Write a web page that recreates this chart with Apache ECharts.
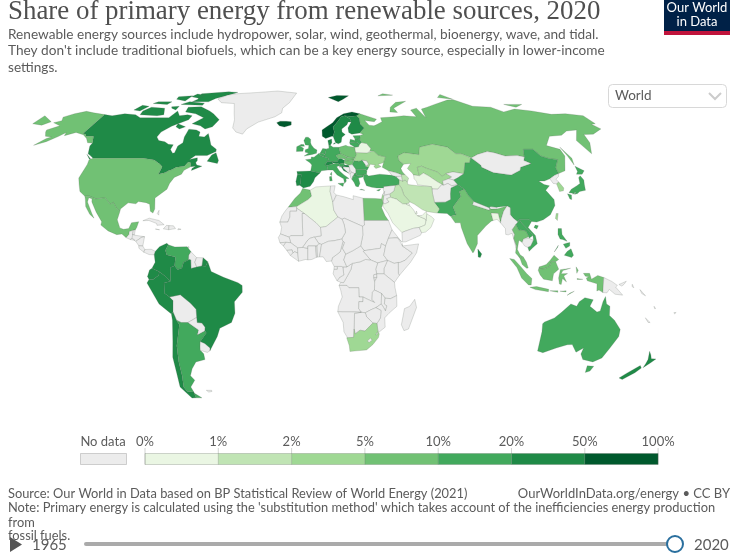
<!DOCTYPE html>
<html>
<head>
<meta charset="utf-8">
<script src="https://cdn.jsdelivr.net/npm/echarts@6/dist/echarts.min.js"></script>
<style>html,body{margin:0;background:#fff}#chart{width:740px;height:553px}</style>
</head>
<body>
<div id="chart"></div>
<script>
// share of primary energy, %, estimated from the colour of each country
const countries = ['Canada','United States','Mexico','Brazil','Colombia','Ecuador','Peru','Chile','Venezuela','Argentina','French Guiana',
  'Iceland','Norway','Sweden','Finland','Denmark','United Kingdom','Ireland','France','Spain','Portugal','Belgium','Netherlands','Germany',
  'Switzerland','Austria','Italy','Poland','Czechia','Slovakia','Hungary','Slovenia','Croatia','North Macedonia','Greece','Bulgaria','Romania',
  'Belarus','Ukraine','Lithuania','Latvia','Estonia','Russia','Kazakhstan','Uzbekistan','Turkmenistan','Azerbaijan','Iran','Iraq','Saudi Arabia',
  'United Arab Emirates','Oman','Kuwait','Qatar','Israel','Turkey','Cyprus','Egypt','Algeria','Morocco','South Africa','Pakistan','India',
  'Bangladesh','Sri Lanka','China','Japan','South Korea','Taiwan','Philippines','Vietnam','Laos','Thailand','Malaysia','Indonesia','Australia','New Zealand']
const shares = [29,8,7,46,30,35,28,27,17,13,22,
  80,71,49,28,35,18,13,13,22,30,11,11,18,
  35,36,19,7,8,9,6,15,30,15,15,11,17,
  0.7,4.5,11,20,15,6.5,2.4,3.5,0.5,1.5,1.5,1.3,0.1,
  0.6,0.3,0.1,0.1,3,17,14,6,0.2,8,4,15,9,
  0.6,25,15,10.5,2.5,3,12,18,15,8,8,8,11,37]

const legendTicks = [0,1,2,5,10,20,50,100]
const legendColors = ['#eaf6e3','#c0e4b4','#9fd894','#71c174','#42a95d','#1f8a47','#00592d']
const noDataColor = '#ececec'

// rough country outlines as flat lon,lat lists
const outlines = {
  'Canada':[[-141,69.6,-135,69,-128,70,-120,69.5,-115,68,-108,68,-100,68,-96,68,-94,71.5,-90,69,-85,69.5,-81.5,69,-82,67,-87,65,-90,63.8,-94,61,-94.5,58.7,-92,57,-88,56.5,-85,55.3,-82,55.1,-82.2,52.9,-80,51.3,-79,51.5,-79,54.5,-77,56,-78,58.7,-78,62.4,-73,62,-70,61,-69.5,59,-66,58.7,-64.5,60.3,-62,57.5,-60,55,-56,53,-55.7,52,-60,50.2,-66.5,50.2,-69,48.5,-65,49.2,-64.5,48,-65,47,-64,46,-61,45.5,-66,43.6,-66,44.5,-64.5,45.5,-67,45.2,-67.8,47,-69.2,47.4,-70.5,45.5,-74.7,45,-76.5,44,-79,43.3,-79,42.8,-83,42,-82.5,45.3,-84.5,46.5,-88.5,48.2,-95,49,-123,49,-125,50,-127.5,51,-130,54.5,-130,55.9,-133,59,-137.5,59,-139,60,-141,60.3],
    [-80,73.7,-72,71.5,-68,70,-62,67,-64,63.5,-68,62.5,-72,64,-78,65,-73,68,-80,70,-88,71,-89,73.5],[-117,69.5,-105,69,-101,69.5,-105,73,-115,73.5,-118,71.5],[-125,72,-120,71.5,-117.5,74,-123,74.5],[-90,76.5,-78,76.5,-75,78.5,-62,82.5,-70,83,-90,81.5,-88,78],[-96,75,-80,74.5,-80,75.7,-92,76.6],[-87,65,-81,63.5,-84,62.5,-87,63.5],[-59,47.7,-53,46.7,-52.8,48,-55.5,51.5,-57.5,50.5],[-128,50.8,-123.5,48.4,-125,48.8],[-117,75.5,-106,75,-105,76.5,-115,76.5],[-100,73,-96,72,-96,74,-101,73.7],[-104,78,-96,77,-95,80,-105,79.5],[-95,79.5,-87,78.5,-86,80.5,-93,81.3]],
  'United States':[[-123,49,-95,49,-88.5,48.2,-84.5,46.5,-82.5,45.3,-83,42,-79,42.8,-79,43.3,-76.5,44,-74.7,45,-70.5,45.5,-69.2,47.4,-67.8,47,-67,45.2,-70,43.7,-70.7,42,-74,40.6,-75.5,38,-76,35.5,-81,31.7,-80,27,-80.5,25.2,-82,26,-83,29,-85,29.7,-89,30.2,-90,29.2,-94,29.6,-97.2,27,-97.2,25.9,-99.5,27.5,-101.5,29.8,-103,29,-106.5,31.8,-111,31.3,-114.8,32.5,-117.1,32.5,-120.5,34.5,-122.5,37.5,-124.3,40.3,-124,46.3,-124.7,48.4],
    [-141,69.6,-141,60.3,-139,60,-137.5,59,-133,59,-130,55.9,-133,56,-136,58,-140,59.7,-146,60.8,-151,59.3,-152,60.8,-154,59,-158,56.5,-163,54.8,-160,58,-158,58.7,-162,59,-165,61,-166,62,-161,64,-167.5,65.5,-164,66.5,-166.5,68.3,-162,70,-156.5,71.3,-150,70.5]],
  'Mexico':[[-117.1,32.5,-114.8,32.5,-111,31.3,-106.5,31.8,-103,29,-101.5,29.8,-99.5,27.5,-97.2,25.9,-97.8,22.3,-95.9,18.8,-94,18.2,-91.5,18.5,-90.5,21,-87,21.5,-87.6,19,-88.2,17.9,-89.1,17.8,-91,17.2,-91,16,-92.2,14.6,-94.5,16.2,-97,15.9,-101.5,17.5,-105.5,20,-105.4,21.5,-109,25.6,-112.5,30,-113,31.4,-114.8,31.8,-114.7,30,-111,25,-109.5,23,-112,24.7,-115,28,-116.2,31]],
  'Greenland':[[-73,78.2,-68,76,-58,75.5,-54,70,-52,67,-51,63,-48,61,-43.5,60,-42,62.5,-36,65.8,-26,68.5,-22,70.5,-22,73,-18,76,-14,82,-30,83.5,-45,82.5,-62,81.5,-68,80.5]],
  'Iceland':[[-24,65.5,-22,64,-18.7,63.4,-14.5,64.4,-14.7,66,-18,66.2,-22,66.3]],
  'Cuba':[[-85,21.9,-82,23,-77,22,-74.2,20.2,-77.7,19.9,-78,20.7,-82,22]],
  'Haiti':[[-74.4,18.4,-71.7,18,-71.7,19.8,-73,19.9]],
  'Dominican Republic':[[-71.7,18,-68.4,18.5,-69.5,19.7,-71.7,19.8]],
  'Jamaica':[[-78.3,18.3,-76.2,18,-76.5,18.4]],
  'Puerto Rico':[[-67.2,18,-65.6,18.2,-67,18.5]],
  'Trinidad':[[-61.9,10.1,-61,10.2,-61.3,10.8]],
  'Bahamas':[[-78.3,25,-77.5,24.3,-77.7,26.4]],
  'Guatemala':[[-92.2,14.6,-91,16,-91,17.2,-89.1,17.8,-89.2,15.9,-88.3,15.7,-89.3,14.4,-90.1,13.8]],
  'Belize':[[-89.1,17.8,-88.2,17.9,-88.3,15.9,-89.2,15.9]],
  'Honduras':[[-89.2,15.9,-88.3,15.7,-83.2,15,-84.7,14.7,-87.3,13,-87.8,13.4,-89.3,14.4]],
  'El Salvador':[[-90.1,13.8,-89.3,14.4,-87.8,13.4,-88,13.2]],
  'Nicaragua':[[-87.3,13,-84.7,14.7,-83.2,15,-83.7,11,-85.7,11.1]],
  'Costa Rica':[[-85.7,11.1,-83.7,11,-82.6,9.5,-83,8.3,-85.5,10]],
  'Panama':[[-83,8.3,-82.6,9.5,-79.5,9.6,-77.4,8.7,-77.9,7.2,-80.4,7.3]],
  'Colombia':[[-77.4,8.7,-75.5,10.7,-72,12.2,-71.3,11.5,-72.5,9.2,-71.9,7.2,-67.5,6.2,-67.8,2.5,-69.8,1.7,-69.9,-4.2,-72,-2.3,-75.2,-0.1,-78.8,1.4,-77.3,4,-77.9,7.2]],
  'Venezuela':[[-71.3,11.5,-68,10.6,-62,10.7,-60,8.5,-61,7,-61,5,-60.7,5.2,-63.5,3.9,-64.2,1.5,-66.3,0.8,-67.8,2.5,-67.5,6.2,-71.9,7.2,-72.5,9.2]],
  'Guyana':[[-60,8.5,-57.2,6,-58,4,-57,1.9,-59.8,1.3,-60,5,-61,5,-61,7]],
  'Suriname':[[-57.2,6,-54,5.9,-54.5,2.4,-57,1.9,-58,4]],
  'French Guiana':[[-54,5.9,-51.7,4.2,-52.7,2.3,-54.5,2.4]],
  'Ecuador':[[-80,0.6,-78.8,1.4,-75.2,-0.1,-75.5,-1.6,-78.3,-3.4,-80.3,-3.4,-81,-2.2]],
  'Peru':[[-80.3,-3.4,-78.3,-3.4,-75.5,-1.6,-75.2,-0.1,-72,-2.3,-69.9,-4.2,-73,-5,-73,-9.4,-70.6,-11,-69,-12.5,-69.5,-17.5,-70.4,-18.3,-76,-14,-81.3,-5]],
  'Bolivia':[[-69,-12.5,-70.6,-11,-65.3,-10,-60.5,-13.7,-58,-16.3,-58,-19.8,-62.6,-22,-66,-22,-68.2,-21,-69.5,-17.5]],
  'Chile':[[-70.4,-18.3,-69.5,-17.5,-68.2,-21,-67,-23,-70,-32,-71,-39,-71.5,-45,-73,-50,-72,-52,-68.5,-52.3,-68.6,-54.9,-71,-55,-75,-50,-74,-44,-73.5,-37,-71.5,-30,-70.2,-21]],
  'Argentina':[[-66,-22,-68.2,-21,-67,-23,-70,-32,-71,-39,-71.5,-45,-73,-50,-72,-52,-68.5,-52.3,-69,-50,-65.5,-47,-67,-45,-65,-42,-62,-39,-57,-38,-57,-35.5,-58.4,-34,-58.2,-32.5,-57.6,-30.2,-54,-26.5,-54.6,-25.6,-58.6,-27.3,-57.7,-25.2,-62.6,-22],[-68.6,-52.7,-65.2,-54.9,-68.6,-54.9]],
  'Paraguay':[[-62.6,-22,-58,-19.8,-58,-22,-55.7,-22.2,-54.3,-24,-54.6,-25.6,-58.6,-27.3,-57.7,-25.2]],
  'Uruguay':[[-58.2,-32.5,-57.6,-30.2,-55.5,-31,-53.2,-33,-53.5,-34.2,-55,-34.9,-58.4,-34]],
  'Brazil':[[-51.7,4.2,-50,0,-44,-2.5,-37,-4.8,-35,-6,-35,-9,-39,-13,-39,-18,-41,-22,-47,-24.5,-48.7,-28,-53.5,-34.2,-53.2,-33,-55.5,-31,-57.6,-30.2,-54,-26.5,-54.6,-25.6,-54.3,-24,-55.7,-22.2,-58,-22,-58,-19.8,-58,-16.3,-60.5,-13.7,-65.3,-10,-70.6,-11,-73,-9.4,-73,-5,-69.9,-4.2,-69.8,1.7,-67.8,2.5,-66.3,0.8,-64.2,1.5,-63.5,3.9,-60.7,5.2,-60,5,-59.8,1.3,-57,1.9,-54.5,2.4,-52.7,2.3]],
  'Falkland Islands':[[-61,-51.5,-58,-51.5,-58,-52,-60,-52.3]],
  'United Kingdom':[[-5.5,50,-1,50.7,1.4,51.2,1.7,52.7,0,53.5,-1.5,55,-2,56,-2,57.6,-3.5,58.6,-5,58.6,-6,57,-5,55,-3,54.9,-3.2,53.4,-5,52.8,-5,51.7,-3,51.4],[-8,54.4,-5.5,54.4,-6,55.2,-7.5,55.2]],
  'Ireland':[[-10,52,-6.3,52.2,-6,53.5,-8,54.4,-7.5,55.2,-10,54.2]],
  'France':[[-1.8,43.4,3.2,42.5,4,43.5,7.5,43.8,7,45.8,6,46.2,7.5,47.6,8.2,49,6.2,49.5,4.2,50,2.5,51,1.6,50.5,0,49.5,-1.5,49.6,-1.6,48.7,-4.7,48.4,-2.2,47,-1.2,46],[8.6,42,9.4,41.4,9.5,43]],
  'Spain':[[-9.2,43.2,-1.8,43.4,3.2,42.5,0.5,40.5,-0.3,38.7,-2,36.8,-5.5,36,-7.4,37.2,-7,38.5,-6.8,41.9,-8.8,42]],
  'Portugal':[[-8.8,42,-6.8,41.9,-7,38.5,-7.4,37.2,-9,37,-9.5,38.8]],
  'Belgium':[[2.5,51,4.2,50,6.2,49.5,6.2,50.6,4,51.4]],
  'Netherlands':[[3.5,51.4,6.2,50.8,7.1,53.2,5,53.4,4,52]],
  'Germany':[[6.2,50.6,6.2,49.5,8.2,49,7.5,47.6,10,47.4,13,47.6,13.8,48.7,12.2,50.2,15,51,14.3,53.9,11,54,9.5,54.8,8.6,54.9,8.6,53.5,7.1,53.2,6.2,50.8]],
  'Denmark':[[8.6,54.9,9.5,54.8,10.5,56,10.5,57.7,8.2,57],[11.2,55.3,12.6,55.6,12,56]],
  'Switzerland':[[6,46.2,7,45.8,10.4,46.5,10,47.4,7.5,47.6]],
  'Austria':[[10,47.4,10.4,46.9,12.2,46.9,14,46.5,16.5,46.9,17,48,15,48.9,13.8,48.7,13,47.6]],
  'Italy':[[7,45.8,7.5,43.8,10.2,43.8,12.3,41.7,15.6,40,16,38,17,39,16.8,40,18.5,40.1,16,41.7,13.6,43.5,12.3,45.3,13.7,45.7,14,46.5,12.2,46.9,10.4,46.5],[12.5,38,15.6,38.2,15.1,36.7],[8.3,39,9.6,39.1,9.3,41.1,8.2,40.9]],
  'Poland':[[14.3,53.9,15,51,19,49.5,22.8,49,24,50.8,23.6,52.5,23.5,54,19.6,54.4,18.5,54.8]],
  'Czechia':[[12.2,50.2,13.8,48.7,15,48.9,17,48.7,18.8,49.5,15,51]],
  'Slovakia':[[17,48,17,48.7,18.8,49.5,19,49.5,22.5,49,22.1,48.4,18.8,47.8]],
  'Hungary':[[16.5,46.9,17,48,18.8,47.8,22.1,48.4,21,46.2,18.8,45.9]],
  'Slovenia':[[13.7,45.5,14,46.5,16.5,46.9,16.6,46,15.3,45.4]],
  'Croatia':[[13.6,45.1,13.7,45.5,15.3,45.4,16.6,46,18.8,45.9,19.2,45,16,45.2,15.8,44.7,18.5,42.5,16,43.5,14.8,45.1]],
  'Bosnia':[[15.8,44.7,16,45.2,19.2,45,19.4,43.6,18.5,42.5]],
  'Serbia':[[19.2,45,18.8,45.9,21,46.2,22.6,44.5,22.4,42.5,21.6,42.3,20,42.9,19.4,43.6]],
  'Montenegro':[[18.5,42.5,19.4,43.6,20,42.9,19.3,41.9]],
  'North Macedonia':[[20.5,41,21.6,42.3,22.4,42.5,23,41.3]],
  'Albania':[[19.3,41.9,20,42.9,21.6,42.3,20.5,41,20,39.7,19.4,40.5]],
  'Greece':[[20,39.7,20.5,41,23,41.3,26.3,41.7,26,40.8,23.5,40.3,24,38,23,36.5,21.7,36.8,21,38.4],[23.6,35.3,26.2,35,24.5,35.5]],
  'Bulgaria':[[22.4,42.5,22.6,44.2,27.5,44,28.5,43.5,28,42,26.3,41.7,23,41.3]],
  'Romania':[[21,46.2,22.1,48,24.9,47.7,26.6,48.2,28.2,46,28.2,45.4,29.7,45,28.6,43.7,27.5,44,22.6,44.2]],
  'Moldova':[[26.6,48.2,29.1,47.9,30,46.4,28.2,45.4,28.2,46]],
  'Ukraine':[[22.1,48.4,22.8,49,24,50.8,23.6,51.6,30,51.4,34,52.3,36,50.4,40,49.6,38.3,47.1,35,46.3,36.5,45.3,33.5,44.5,32.5,45.4,33.5,46,30.8,46.4,29.7,45,28.2,45.4,30,46.4,29.1,47.9,26.6,48.2,24.9,47.7,22.1,48]],
  'Belarus':[[23.6,51.6,30,51.4,31.8,52.1,32.7,53.4,30.8,55.6,28,56.1,26.5,55.3,25.7,54.2,23.5,54,23.6,52.5]],
  'Lithuania':[[21,55.3,21,56.1,25,56.3,26.5,55.3,25.7,54.2,23.5,54,22.8,54.4]],
  'Latvia':[[21,56.1,21.6,57.6,24.3,57.1,24.4,57.9,27.3,57.6,28,56.1,26.5,55.3,25,56.3]],
  'Estonia':[[23.5,59.2,28,59.4,27.3,57.6,24.4,57.9,24.3,58.3]],
  'Norway':[[5,59,7,58,10.7,59,11.5,59,12.5,61,12,63.5,14,65,15.5,66.3,18,68.5,20.5,69,25,68.6,29,69,31,70,26,71,20,70,15,68,12,65.5,8,63.5,5,62],[11,79,18,76.6,22,78,27,80,18,80.3]],
  'Sweden':[[11.5,59,10.9,58.9,12.7,56,14.3,55.5,16,56.2,16.8,58.6,19,59.8,17.2,61,17.3,62.5,21,64.5,22,65.8,24,65.8,23.5,67.5,20.5,69,18,68.5,15.5,66.3,14,65,12,63.5,12.5,61]],
  'Finland':[[24,65.8,21.3,63,21.3,60.8,23,60,28,60.5,31.5,62.9,29.5,65,30,67.7,28.5,69,29,69,25,68.6,20.5,69,23.5,67.5]],
  'Russia':[[28,59.4,30,60,28,60.5,31.5,62.9,29.5,65,30,67.7,28.5,69,31,70,41,67.3,39,66,33,66.6,35,64.3,38,64,40,64.6,44,66,44,68,54,68.5,60,69,68,68.5,67,72,72,73,74,68,75,72.5,80,73.5,87,75,100,77.5,105,77.7,113,74,125,73.5,130,71,140,72.5,150,71.5,160,69.7,170,70,180,69,180,65,177,64.7,179,62.5,170,60,164,59.8,162,56,156.7,51,155.5,57,163,62,156,61.5,150,59.5,142,59,135,54.7,141,53,140.5,50,135,43.5,130.7,42.3,131,44.9,135,48.4,130.5,48.9,127,50,125.5,53,120,53,117.5,49.6,114,50.2,107,50,102,51.5,98.5,52,92,50.7,87.8,49.2,87.3,49.2,83,51,80,51,77,54,71,55,69,55.3,61,54,59,50.6,51,51.5,47,50,47,48,49,46.4,47,44.5,47.5,43,48.5,41.8,46.5,41.8,44,42.6,40,43.5,37,45,38.3,47.1,40,49.6,36,50.4,34,52.3,31.8,52.1,32.7,53.4,30.8,55.6,28,56.1,27.3,57.6],
    [-180,69,-170,66,-173,64.3,-180,65],[142,54,143.5,49,142,46,142,50],[52,71,57,70.7,56,73,68,76.8,60,76.2,54,73.5],[95,79,105,78,100,81],[137,75,150,75,143,73.5],[50,80,62,80.5,55,81.5]],
  'Kazakhstan':[[47,50,51,51.5,59,50.6,61,54,69,55.3,71,55,77,54,80,51,83,51,87.3,49.2,85.5,47,83,47,80,42.2,74.5,43,70.5,42.3,68,41,66,43,61,44.5,58.5,45.5,56,45,56,41.3,53,41.7,52.5,42.5,50.5,44.5,53,46.7,49,46.4,47,48]],
  'Uzbekistan':[[56,45,58.5,45.5,61,44.5,66,43,68,41,70.5,42.3,73,40.8,71,40,67.5,39,67.5,37.2,64.5,38.8,61,41.2,58.5,42.5,56,41.3]],
  'Turkmenistan':[[53,41.7,56,41.3,58.5,42.5,61,41.2,64.5,38.8,67.5,37.2,66.5,37.4,64,35.5,61,35.6,61,36.6,54,37.4,53.7,39,52.8,40]],
  'Kyrgyzstan':[[70.5,42.3,74.5,43,80,42.2,76,40.4,73.5,39.5,71,40,73,40.8]],
  'Tajikistan':[[67.5,37.2,67.5,39,71,40,73.5,39.5,75,37.4,71.5,37,70,38]],
  'Afghanistan':[[61,35.6,64,35.5,66.5,37.4,67.5,37.2,70,38,71.5,37,75,37.4,71,36,70,33.5,69.5,31,66.5,29.9,61,29.8,60.8,33.5]],
  'Pakistan':[[61.6,25.2,66.5,25,68,23.8,71,24.5,70,27.8,75,32.3,74.8,34.5,77.8,35.5,75,37.4,71,36,70,33.5,69.5,31,66.5,29.9,61,29.8,63,27]],
  'Iran':[[44.8,39.7,46.5,39,48,39.5,48.9,38.5,49,37.5,54,37,54,37.4,61,36.6,61,35.6,60.8,33.5,61,29.8,63,27,61.6,25.2,57,25.8,54.5,26.6,50.8,29,48.6,30,46,33,45.3,36,44.3,37.5]],
  'Iraq':[[38.8,33.4,41.2,34.8,42.3,37.2,44.3,37.5,45.3,36,46,33,48.6,30,47.8,29.5,46.5,29.1,44.7,29.2,42,31.2,39,32]],
  'Syria':[[35.8,35.5,36.2,36.7,42.3,37.2,41.2,34.8,38.8,33.4,36,33,35.9,34.6]],
  'Lebanon':[[35.1,33.1,36,33.5,36.4,34.6,35.9,34.6]],
  'Israel':[[34.3,31.3,35.1,33.1,35.7,32.7,35,29.5]],
  'Jordan':[[35,29.5,35.7,32.7,36,33,38.8,33.4,39,32,37,31.4,38,30,36,29.2]],
  'Turkey':[[26.2,40,26.3,41.7,28,42,29,41.2,35,42,41.5,41.5,43.5,41,44.8,39.7,44.3,37.5,42.3,37.2,36.2,36.7,36,36,32.5,36,30,36.3,27.3,37,26.5,39]],
  'Cyprus':[[32.3,35,34.5,35.6,33.5,34.7]],
  'Georgia':[[40,43.5,44,42.6,46.5,41.8,46.5,41.1,43.5,41,41.5,41.5]],
  'Armenia':[[43.5,41,46.5,41.1,46.5,39,44.8,39.7]],
  'Azerbaijan':[[46.5,41.8,48.5,41.8,50,40.3,48.9,38.5,48,39.5,46.5,39,46.5,41.1]],
  'Saudi Arabia':[[34.8,29.3,36,29.2,38,30,37,31.4,39,32,42,31.2,44.7,29.2,46.5,29.1,47.8,28.5,48.7,28,50,26.5,50.8,24.8,51.6,24.1,55.2,22.7,55.7,22,55,20,52,19,49,18.6,45,17.4,43.3,16.8,42.8,16.4,39,21,37,25,34.8,28]],
  'Yemen':[[43.3,12.7,45,12.8,52.3,15.6,53,16.7,52,19,49,18.6,45,17.4,43.3,16.8,42.8,16.4]],
  'Oman':[[52,19,55,20,55.7,22,56.3,24.9,58.6,23.6,59.8,22.5,57.8,19,55,17,53,16.7]],
  'United Arab Emirates':[[51.6,24.1,54,24.2,56.3,26,56.3,24.9,55.7,22,55.2,22.7]],
  'Qatar':[[50.8,24.8,51.6,25,51.3,26.1,50.8,25.7]],
  'Kuwait':[[46.5,29.1,47.8,29.5,48.4,28.5,47.8,28.5]],
  'India':[[68.2,23.7,71,24.5,70,27.8,75,32.3,74.8,34.5,77.8,35.5,79,32.8,81,30.2,80,28.8,88,26.4,88.2,27.5,89,26.9,92,27,97.3,28.3,95,26,93.3,23,92.5,21,92,25,88.5,25.2,89,22,88,21.7,85,19.6,80.3,15.5,80,12,78,8.5,77.5,8,75,12,72.8,19,72.6,21,70,21,69,22.5]],
  'Nepal':[[80,28.8,81,30.2,88.2,27.5,88,26.4]],
  'Bhutan':[[89,26.9,88.2,27.5,89,28,92,27.7,92,27]],
  'Bangladesh':[[88.5,25.2,92,25,92.5,21,91,22.5,89,22]],
  'Sri Lanka':[[80,9.7,81.8,7.5,81,6,80,6.2]],
  'China':[[73.5,39.5,76,40.4,80,42.2,83,47,85.5,47,87.3,49.2,87.8,49.2,91,46,91,45,96,42.7,105,41.7,111,43.7,112,45,119,46.7,116,48,117.5,49.6,120,53,125.5,53,127,50,130.5,48.9,135,48.4,131,44.9,130.7,42.3,128,41.5,124.4,40,121,39,118,39,120,37.5,122.5,37,119.5,35,122,31,121.5,28.5,118,24.5,114,22.3,110.5,21.3,108,21.6,106.7,22.5,102,22.5,101.2,21.3,99.2,23,98,24.5,98.7,27.5,97.3,28.3,92,27.7,89,28,88.2,27.5,81,30.2,79,32.8,77.8,35.5,75,37.4],[108.7,19,110,18.3,111,19.7,109.5,20]],
  'Taiwan':[[120.2,23,120.9,22,122,25,121,25]],
  'Mongolia':[[87.8,49.2,92,50.7,98.5,52,102,51.5,107,50,114,50.2,117.5,49.6,116,48,119,46.7,112,45,111,43.7,105,41.7,96,42.7,91,45,91,46]],
  'North Korea':[[124.4,40,128,41.5,130.7,42.3,129.7,41,127.5,39.8,128.3,38.6,126.7,37.8,125,38]],
  'South Korea':[[126.7,37.8,128.3,38.6,129.4,36,128.5,34.8,126.4,34.5]],
  'Japan':[[131,34,135,33.5,136.8,34.5,140,35,141,37.5,142,39.5,141.4,41.3,140,40.5,139,38,136.8,37,133,35.5],[140,42,143,42,145.3,43.5,142,45.5,141.5,43.2],[130,33.5,131.8,33,131,31,130.2,31.3],[132.5,33.5,134.5,34.2,134,33.3]],
  'Myanmar':[[92.5,21,93.3,23,95,26,97.3,28.3,98.7,27.5,98,24.5,99.2,23,101.2,21.3,100,20.3,97.8,18,98.7,16,98,14.3,99,11,98.7,10,98,14,97.5,16.5,95.5,15.8,94.3,16,94.5,18.5]],
  'Thailand':[[100,20.3,101,17.7,102,18,104.5,17.5,105.5,15,102.7,14,102,12.5,100.5,13.5,100,12,99.3,9.5,100.5,7.2,102,6.2,101,5.7,99.7,6.5,98.3,8,98.7,10,99,11,98,14.3,98.7,16,97.8,18]],
  'Laos':[[101.2,21.3,102,22.5,103,20.8,106.5,17,107.6,15.5,105.5,14.3,105.5,15,104.5,17.5,102,18,101,17.7,100,20.3]],
  'Cambodia':[[102.7,14,105.5,14.3,107.6,13.5,106,11,104.5,10.4,103,11,102,12.5]],
  'Vietnam':[[102,22.5,106.7,22.5,108,21.6,105.8,19,108.8,15.5,109.3,12,107,10.4,105,8.7,104.5,10.4,106,11,107.6,13.5,107.6,15.5,106.5,17,103,20.8]],
  'Malaysia':[[102,6.2,103.4,4,104.2,1.5,103.4,1.4,101.3,3,100.4,5.5,99.7,6.5,101,5.7],[109.6,2,111.3,2.5,113,3,115,4.9,117,7,119.2,5.2,117.6,4.2,115.6,4.3,114.5,2,112,1.2,109.7,1]],
  'Indonesia':[[95.3,5.6,97.5,5.2,100.5,2.2,103.5,-1,106,-3,105.8,-5.8,104.5,-5.8,101,-2.8,98.7,1.7],[105.2,-6.8,108.5,-6.5,114.5,-7.7,114.4,-8.7,108,-7.8],[109.6,2,109.7,1,112,1.2,114.5,2,115.6,4.3,117.6,4.2,119,1,116.5,-1,116,-4,111.7,-3.3,110,-1.5,109,0.5],[119.8,0.8,124.8,1.4,121,0.4,120.2,-1,123.3,-0.9,121.5,-1.9,122.9,-4.5,120.9,-3,120.4,-5.6,119.5,-5.4,119,-2.8],[115,-8.3,119,-8.3,119,-9],[120,-8.5,123,-8.3,123,-8.8],[123.6,-10.3,127,-8.5,125,-9.3],[127.5,2,128.5,0.5,127.8,-0.8],[128,-3,130.8,-3.4,128,-3.4],[131,-0.8,134,-0.8,135,-3.3,138,-1.7,141,-2.6,141,-9.1,139,-8,138,-8.4,137.8,-5.3,133,-4,132.5,-2.8,133.8,-2.3,132,-2]],
  'Papua New Guinea':[[141,-2.6,145,-4.3,147.8,-6,147,-6.7,150.8,-10.2,147,-9.8,144,-7.7,143,-9.2,141,-9.1],[148.5,-5.6,152,-4.2,151,-5.5,150,-6.3],[155,-5.5,155.9,-7,155,-6.5]],
  'Solomon Islands':[[159,-7.8,162,-10.5,160,-9.5]],
  'Vanuatu':[[167,-15,168,-16,167.5,-16]],
  'New Caledonia':[[164,-20,167,-22,166,-22]],
  'Fiji':[[177.5,-17.7,178.6,-17.7,178,-18.3]],
  'Philippines':[[120.5,18.5,122.2,18.5,122,16,124,13,122,13.8,120.7,14,120,16],[122,7,123.5,8.6,125.5,9.8,126.5,7,125.5,6,124,6.5],[122,11.8,123,10,125,11,125.3,12.5,124,12.3],[117.2,8.4,119.5,11.3,119,10.4]],
  'Australia':[[113.7,-22.5,114.2,-26,115,-34.3,118,-35,124,-33,129,-31.6,131.5,-31.5,135,-34.8,138,-33,138,-35.6,140.5,-38,146.4,-39,150,-37.3,151.5,-33,153.5,-28,153,-25,149,-21,146,-19,145.3,-15,143.5,-14,142.5,-10.8,141.6,-13,141,-17,139.5,-17.5,135.5,-15,136.7,-12.2,132.5,-11.3,130,-13,129,-15,126,-14,122.2,-17.5,119,-20,114.5,-21.8],[144.7,-40.7,148.3,-40.9,148,-43,146,-43.6]],
  'New Zealand':[[172.7,-34.4,174.5,-36,176,-37.6,178.5,-37.7,177,-39.5,175,-41.5,174.8,-39.8,174.6,-38],[172.7,-40.6,174.3,-41.7,172.8,-43.7,171,-45,169,-46.7,166.5,-46,168.5,-44]],
  'Morocco':[[-5.9,35.8,-2,35.1,-1.2,32.5,-3,31,-8.7,28,-13,27.7,-9.8,31.5,-7,33.8]],
  'Western Sahara':[[-13,27.7,-8.7,28,-8.7,26,-12,26,-12,23.5,-13,21.3,-17,21.3,-16,24,-14.5,26]],
  'Algeria':[[-2,35.1,1,36.5,8.6,36.9,8.3,34.5,9.5,30,9.9,26.5,11.9,23.5,6,19.4,3.2,19,1,21,-4.8,25,-8.7,27.3,-8.7,28,-3,31,-1.2,32.5]],
  'Tunisia':[[8.6,36.9,11,37,10.2,34,11.5,33,10,30.5,9.5,30,8.3,34.5]],
  'Libya':[[11.5,33,15,32.3,20,31,20,32.7,25,31.6,25,20,24,19.5,15,23,14,22.5,11.9,23.5,9.9,26.5,9.5,30,10,30.5]],
  'Egypt':[[25,31.6,31,31.5,34.3,31.3,35,29.5,34,27.5,35.5,24,37,22,25,22]],
  'Sudan':[[25,22,37,22,38.5,18,36.5,14.3,35,11,33,12,32.4,10,24.5,9,22.8,11,24,15.7,24,19.5,25,20]],
  'South Sudan':[[24.5,9,32.4,10,33,12,35,11,34,7,35.8,4.8,31,3.7,27.5,5,24,8.7]],
  'Eritrea':[[38.5,18,43,12.7,41,14.5,39.5,14.5,36.5,14.3]],
  'Djibouti':[[42,11,43.3,12,43.2,11,42.7,11]],
  'Ethiopia':[[36.5,14.3,39.5,14.5,41,14.5,42.5,12.5,43.2,11,48,8,44.5,4.9,41.9,3.9,39,3.5,35.8,4.8,34,7,35,11]],
  'Somalia':[[43.2,11,51.2,11.9,50,8,47,4,41.5,-1.7,41,-0.8,41,3.9,41.9,3.9,44.5,4.9,48,8]],
  'Kenya':[[35.8,4.8,39,3.5,41,3.9,41,-0.8,41.5,-1.7,39.2,-4.7,34,-1,34,1.2]],
  'Uganda':[[31,3.7,35.8,4.8,34,1.2,34,-1,30.5,-1,30,1]],
  'Rwanda':[[29,-1.4,30.5,-1,30.6,-2.5,29,-2.8]],
  'Burundi':[[29,-2.8,30.6,-2.5,29.5,-4.4]],
  'Tanzania':[[30.5,-1,34,-1,39.2,-4.7,39.5,-7,40.4,-10.4,37.5,-11.7,34.8,-11.5,33,-9.5,31,-8.6,29.5,-8,29.5,-4.4,30.6,-2.5]],
  'DR Congo':[[12.2,-6,13,-4.7,14.4,-4.8,16.2,-2,18,1,18.6,3.5,22.5,4.2,25,5.2,27.5,5,31,3.7,30,1,30.5,-1,29,-1.4,29,-2.8,29.5,-4.4,29.5,-8,28.5,-9,28.4,-12,29.8,-13.4,26,-11.9,24,-11,22,-11,21.8,-7,17,-7,16,-6]],
  'Congo':[[11.2,-4,13,-4.7,14.4,-4.8,16.2,-2,18,1,18.6,3.5,16,2,14,2,14.5,-1.5,12.5,-2.5]],
  'Gabon':[[9.3,-1,9.7,1,11.3,1,11.3,2.2,13.3,2.2,14,2,14.5,-1.5,12.5,-2.5,11.2,-4]],
  'Equatorial Guinea':[[9.7,1,9.8,2.2,11.3,2.2,11.3,1]],
  'Cameroon':[[8.5,4.5,9.8,2.2,11.3,2.2,13.3,2.2,14,2,16,2,14.5,5,15.5,7.5,13.9,10,15,12.5,14.2,13,12.8,8.5,10.6,7,9,6]],
  'Central African Republic':[[14.5,5,16,2,18.6,3.5,22.5,4.2,25,5.2,27.5,5,24,8.7,24.5,9,22.8,11,19,9,15.5,7.5]],
  'Chad':[[14,22.5,15,23,24,19.5,24,15.7,22.8,11,19,9,15.5,7.5,13.9,10,15,12.5,14.2,13,13.6,14,15.5,16.9,15,20]],
  'Niger':[[3.2,19,6,19.4,11.9,23.5,14,22.5,15,20,15.5,16.9,13.6,14,10,13.3,7,13,3.7,11.7,2.4,12,0.2,14.9,3.5,15.4]],
  'Mali':[[-4.8,25,1,21,3.2,19,3.5,15.4,0.2,14.9,-2,14.3,-3,13.6,-5.5,10.4,-8,10.2,-11.4,12.4,-12.2,14.8,-11.5,15.5,-5.5,15.5,-6,25]],
  'Mauritania':[[-17,21.3,-13,21.3,-12,23.5,-12,26,-8.7,26,-8.7,27.3,-4.8,25,-6,25,-5.5,15.5,-11.5,15.5,-12.2,14.8,-16.5,16.2,-16,19]],
  'Senegal':[[-17.5,14.7,-16.5,16.2,-12.2,14.8,-11.4,12.4,-13.7,12.6,-16.7,12.4]],
  'Guinea-Bissau':[[-16.7,12.4,-13.7,12.6,-15,11]],
  'Guinea':[[-13.7,12.6,-11.4,12.4,-8,10.2,-7.9,8,-9.5,8.5,-10.3,8,-10.7,9.3,-13.3,9.1,-15,11]],
  'Sierra Leone':[[-13.3,9.1,-10.7,9.3,-10.3,8,-11.5,6.9]],
  'Liberia':[[-11.5,6.9,-10.3,8,-9.5,8.5,-7.9,8,-7.5,4.4]],
  'Ivory Coast':[[-7.5,4.4,-7.9,8,-8,10.2,-5.5,10.4,-3,10,-3,5,-4,5.2]],
  'Burkina Faso':[[-5.5,10.4,-3,13.6,-2,14.3,0.2,14.9,2.4,12,1.5,11,0.8,11,-3,11,-3,10]],
  'Ghana':[[-3,5,-3,11,0.8,11,1.2,6.1,-1,5.2]],
  'Togo':[[1.2,6.1,0.8,11,1.5,11,1.7,6.2]],
  'Benin':[[1.7,6.2,1.5,11,2.4,12,3.7,11.7,2.7,6.3]],
  'Nigeria':[[2.7,6.3,3.7,11.7,7,13,10,13.3,13.6,14,14.2,13,12.8,8.5,10.6,7,9,6,8.5,4.5,6,4.3,4.5,6.3]],
  'Angola':[[12.2,-6,13,-8,13.8,-11,12,-15,11.7,-17.3,14,-17.4,18.5,-17.4,23.4,-17.6,22,-16,22,-13,24,-13,24,-11,22,-11,21.8,-7,17,-7,16,-6]],
  'Zambia':[[22,-16,23.4,-17.6,25.3,-17.8,28,-16.5,30.4,-15.6,33,-14,33,-9.5,31,-8.6,29.5,-8,28.5,-9,28.4,-12,29.8,-13.4,26,-11.9,24,-11,24,-13,22,-13]],
  'Malawi':[[33,-9.5,34.8,-11.5,34.5,-14,35.8,-14.8,35.2,-17,34.2,-15.5,33,-14]],
  'Mozambique':[[34.8,-11.5,37.5,-11.7,40.4,-10.4,40.7,-15,37,-18,35,-20,35.5,-24,32.8,-26,32,-25.7,31.3,-22.4,32.9,-20,33,-16.8,30.4,-15.6,33,-14,34.2,-15.5,35.2,-17,35.8,-14.8,34.5,-14]],
  'Zimbabwe':[[25.3,-17.8,28,-16.5,30.4,-15.6,33,-16.8,32.9,-20,31.3,-22.4,29.3,-22.2,26,-19.5]],
  'Botswana':[[20,-18,23.4,-17.6,25.3,-17.8,26,-19.5,29.3,-22.2,25.5,-25.7,23,-25.3,20.7,-26.9,20,-24.8]],
  'Namibia':[[11.7,-17.3,14,-17.4,18.5,-17.4,23.4,-17.6,20,-18,20,-24.8,20,-28.4,17,-28.7,15,-26,14.5,-22]],
  'South Africa':[[16.5,-28.6,17,-28.7,20,-28.4,20,-24.8,20.7,-26.9,23,-25.3,25.5,-25.7,29.3,-22.2,31.3,-22.4,32,-25.7,32.8,-26.9,32.5,-28.5,30,-31.5,27,-33.8,22,-34.2,18.5,-34.5,18,-32]],
  'Lesotho':[[27,-30,28.5,-28.7,29.4,-29.6,28,-30.6]],
  'Eswatini':[[31,-27.3,31.9,-26,32,-27,31.3,-27.3]],
  'Madagascar':[[49.3,-12,50.4,-15.5,47.2,-24.8,45,-25.5,43.5,-23,44.5,-16,47,-15]]
}

// Robinson table, every 5 degrees of latitude
const robX = [1,.9986,.9954,.99,.9822,.973,.96,.9427,.9216,.8962,.8679,.835,.7986,.7597,.7186,.6732,.6213,.5722,.5322]
const robY = [0,.062,.124,.186,.248,.31,.372,.434,.4958,.5571,.6176,.6769,.7346,.7903,.8435,.8936,.9394,.9761,1]
const lerpTable = (t, lat) => {
  const a = Math.min(Math.abs(lat), 89.999) / 5
  const i = Math.floor(a)
  return t[i] + (t[i + 1] - t[i]) * (a - i)
}
const MAP_X0 = 314, MAP_Y0 = 271.5, MAP_KX = 2.057, MAP_KY = 187
const project = ([lon, lat]) => [
  MAP_X0 + MAP_KX * lerpTable(robX, lat) * lon,
  MAP_Y0 - Math.sign(lat) * MAP_KY * lerpTable(robY, lat)
]
const unproject = ([x, y]) => {
  const v = Math.abs(MAP_Y0 - y) / MAP_KY
  let i = 0
  while (i < 17 && robY[i + 1] < v) i++
  const a = i + (v - robY[i]) / (robY[i + 1] - robY[i])
  const lat = Math.sign(MAP_Y0 - y) * a * 5
  return [(x - MAP_X0) / (MAP_KX * lerpTable(robX, lat)), lat]
}

const features = []
let x0 = Infinity, y0 = Infinity, x1 = -Infinity, y1 = -Infinity
Object.keys(outlines).forEach(name => {
  const polys = outlines[name].map(flat => {
    const ring = []
    for (let i = 0; i < flat.length; i += 2) {
      ring.push([flat[i], flat[i + 1]])
      const p = project(ring[ring.length - 1])
      x0 = Math.min(x0, p[0]); x1 = Math.max(x1, p[0])
      y0 = Math.min(y0, p[1]); y1 = Math.max(y1, p[1])
    }
    ring.push(ring[0])
    return [ring]
  })
  features.push({ type: 'Feature', properties: { name }, geometry: { type: 'MultiPolygon', coordinates: polys } })
})
echarts.registerMap('world', { type: 'FeatureCollection', features })

const GREY = '#5b5b5b'
const text = (x, y, str, style) => ({
  type: 'text', x, y, silent: true,
  style: Object.assign({ text: str, fontFamily: 'Lato', fontSize: 13, fill: GREY, textVerticalAlign: 'middle' }, style)
})

const LEG_X = 145, LEG_STEP = 73.3
const legendLabels = legendTicks.map((t, i) => text(LEG_X + i * LEG_STEP, 442, t + '%', { textAlign: 'center' }))
const legendMarks = legendTicks.map((t, i) => ({
  type: 'line', silent: true, z: 20, shape: { x1: LEG_X + i * LEG_STEP, y1: 448, x2: LEG_X + i * LEG_STEP, y2: 464.5 },
  style: { stroke: 'rgba(90,100,90,.45)', lineWidth: 0.6 }
}))

const myChart = echarts.init(document.getElementById('chart'))
myChart.setOption({
  animation: false,
  backgroundColor: '#fff',
  visualMap: {
    type: 'piecewise', orient: 'horizontal', left: LEG_X, top: 453.5,
    itemWidth: LEG_STEP, itemHeight: 11, itemGap: 0, itemSymbol: 'rect', padding: 0,
    showLabel: false, selectedMode: false, hoverLink: false,
    pieces: legendColors.map((color, i) => ({ min: legendTicks[i], max: legendTicks[i + 1], color }))
  },
  series: [{
    type: 'map', map: 'world', silent: true,
    projection: { project, unproject },
    left: x0, top: y0, width: x1 - x0, height: y1 - y0,
    label: { show: false },
    itemStyle: { areaColor: noDataColor, borderColor: 'rgba(85,95,85,.4)', borderWidth: 0.5 },
    emphasis: { disabled: true },
    data: countries.map((name, i) => ({ name, value: shares[i] }))
  }],
  graphic: [
    text(8, 12, 'Share of primary energy from renewable sources, 2020', { fontFamily: 'Liberation Serif', fontSize: 26.9, fill: '#4f4f4f' }),
    text(8, 35, 'Renewable energy sources include hydropower, solar, wind, geothermal, bioenergy, wave, and tidal.', { fontSize: 13.65 }),
    text(8, 51, "They don't include traditional biofuels, which can be a key energy source, especially in lower-income", { fontSize: 13.65 }),
    text(8, 68, 'settings.', { fontSize: 13.65 }),

    { type: 'rect', silent: true, shape: { x: 664, y: 0, width: 66, height: 35 }, style: { fill: '#002147' } },
    { type: 'rect', silent: true, shape: { x: 664, y: 31, width: 66, height: 4 }, style: { fill: '#c0143c' } },
    text(697, 8, 'Our World', { fill: '#fff', textAlign: 'center', fontSize: 13 }),
    text(697, 22, 'in Data', { fill: '#fff', textAlign: 'center', fontSize: 13 }),

    { type: 'rect', silent: true, shape: { x: 608.5, y: 84.5, width: 118, height: 23, r: 4 }, style: { fill: '#fff', stroke: '#d8d8d8' } },
    text(615, 96, 'World', { fontSize: 13.5 }),
    { type: 'polyline', silent: true, shape: { points: [[709, 93], [715, 99], [721, 93]] }, style: { stroke: '#ccc', lineWidth: 2, fill: 'none' } },

    text(103, 442, 'No data', { textAlign: 'center' }),
    { type: 'rect', silent: true, shape: { x: 80.5, y: 453.5, width: 46, height: 11 }, style: { fill: noDataColor, stroke: '#bbb', lineWidth: 0.7 } },
    ...legendLabels,
    ...legendMarks,
    { type: 'rect', silent: true, z: 20, shape: { x: LEG_X, y: 453.5, width: 7 * LEG_STEP, height: 11 }, style: { fill: 'none', stroke: 'rgba(90,100,90,.45)', lineWidth: 0.6 } },

    text(8, 494, 'Source: Our World in Data based on BP Statistical Review of World Energy (2021)', { fontSize: 12.85 }),
    text(730, 494, 'OurWorldInData.org/energy • CC BY', { textAlign: 'right' }),
    text(8, 508, "Note: Primary energy is calculated using the 'substitution method' which takes account of the inefficiencies energy production", { fontSize: 12.85 }),
    text(8, 523, 'from', { fontSize: 12.85 }),
    text(8, 536, 'fossil fuels.', { fontSize: 12.85 }),

    { type: 'polygon', silent: true, shape: { points: [[10, 537], [22, 544.5], [10, 552]] }, style: { fill: '#555' } },
    text(32, 545, '1965', { fontSize: 15 }),
    { type: 'rect', silent: true, shape: { x: 84, y: 542, width: 590, height: 4, r: 2 }, style: { fill: '#aaa' } },
    { type: 'circle', silent: true, shape: { cx: 675, cy: 544, r: 8 }, style: { fill: '#fff', stroke: '#2a6f9e', lineWidth: 2 } },
    text(694, 545, '2020', { fontSize: 15 })
  ]
})
</script>
</body>
</html>
